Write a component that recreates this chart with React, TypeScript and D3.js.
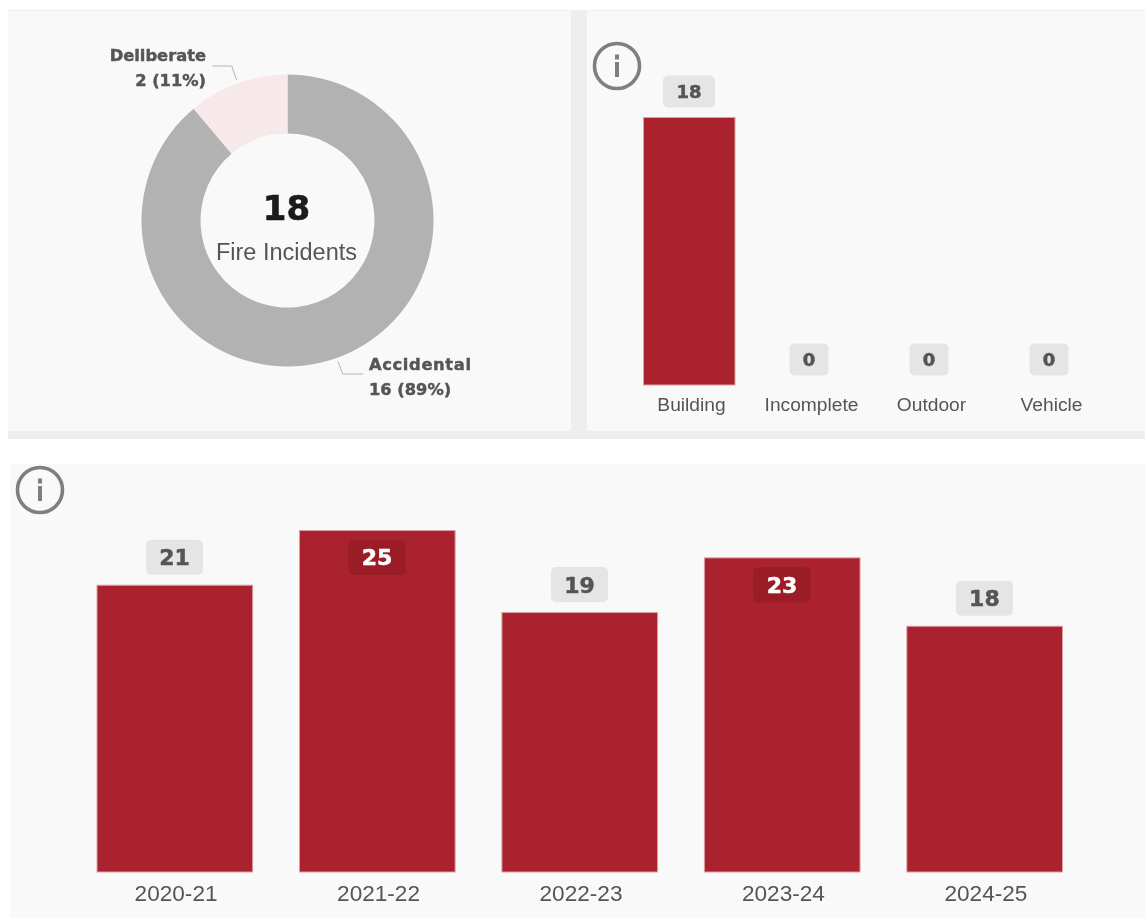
import React from "react";
import * as d3 from "d3";

const causeLabels = ["Accidental", "Deliberate"];
const causeValues = [16, 2];
const causeShares = ["16 (89%)", "2 (11%)"];
const causeTotal = 18;
const causeTitle = "Fire Incidents";

const typeLabels = ["Building", "Incomplete", "Outdoor", "Vehicle"];
const typeValues = [18, 0, 0, 0];

const yearLabels = ["2020-21", "2021-22", "2022-23", "2023-24", "2024-25"];
const yearValues = [21, 25, 19, 23, 18];

const RED = "#aa202d";
const EDGE = "#d9a0a5";
const PANEL = "#f9f9f9";
const GUTTER = "#eeeeee";
const BADGE = "#e5e5e5";
const BADGE_IN = "#9a1c28";
const TEXT = "#555555";
const BOLD = "'DejaVu Sans', Verdana, sans-serif";
const SANS = "'Liberation Sans', Arial, sans-serif";

function Info({ cx, cy }: { cx: number; cy: number }) {
  return (
    <g fill="#7f7f7f">
      <circle cx={cx} cy={cy} r={22.5} fill="none" stroke="#7f7f7f" strokeWidth={3.6} />
      <rect x={cx - 2} y={cy - 11.5} width={4} height={5} />
      <rect x={cx - 2} y={cy - 4} width={4} height={15} />
    </g>
  );
}

function Badge({ cx, y, w, h, fill, color, size, text }: any) {
  return (
    <g>
      <rect x={cx - w / 2} y={y} width={w} height={h} rx={5} fill={fill} />
      <text x={cx} y={y + h / 2} dy="0.36em" textAnchor="middle" fontFamily={BOLD} fontWeight={700} fontSize={size} fill={color} stroke={color} strokeWidth={0.5}>
        {text}
      </text>
    </g>
  );
}

function Donut() {
  const cx = 287.5;
  const cy = 220.5;
  const pie = d3.pie<number>().sort(null)(causeValues);
  const arc = d3.arc<d3.PieArcDatum<number>>().innerRadius(87).outerRadius(146);
  const colors = d3.scaleOrdinal<string, string>().domain(causeLabels).range(["#b2b2b2", "#f7e9ea"]);
  const line = d3.line();
  return (
    <g>
      <g transform={`translate(${cx},${cy})`}>
        {pie.map((d, i) => (
          <path key={causeLabels[i]} d={arc(d) as string} fill={colors(causeLabels[i])} />
        ))}
      </g>
      <path d={line([[236.6, 80], [231.7, 66], [212.5, 66]]) as string} fill="none" stroke="#b5b5b5" strokeWidth={1} />
      <path d={line([[338, 361.5], [342.7, 374], [363, 374]]) as string} fill="none" stroke="#b5b5b5" strokeWidth={1} />
      <g fontFamily={BOLD} fontWeight={700} fontSize={16.3} fill={TEXT} stroke={TEXT} strokeWidth={0.45}>
        <text x={206} y={61} textAnchor="end">{causeLabels[1]}</text>
        <text x={206} y={86} textAnchor="end">{causeShares[1]}</text>
        <text x={369} y={370} textLength={102} lengthAdjust="spacing">{causeLabels[0]}</text>
        <text x={369} y={395}>{causeShares[0]}</text>
      </g>
      <text x={286.5} y={220} textAnchor="middle" fontFamily={BOLD} fontWeight={700} fontSize={34} fill="#1a1a1a" stroke="#1a1a1a" strokeWidth={0.6}>{causeTotal}</text>
      <text x={286.5} y={260} textAnchor="middle" fontFamily={SANS} fontSize={23.5} fill={TEXT}>{causeTitle}</text>
    </g>
  );
}

function TypeBars() {
  const x = d3.scaleBand<string>().domain(typeLabels).range([643, 1095]).paddingInner(0.2333).paddingOuter(0);
  const y = d3.scaleLinear().domain([0, 18]).range([385, 117]);
  return (
    <g>
      {typeLabels.map((l, i) => {
        const v = typeValues[i];
        const bx = x(l) as number;
        const c = bx + x.bandwidth() / 2;
        return (
          <g key={l}>
            {v > 0 && <rect x={bx + 0.5} y={y(v) + 0.5} width={x.bandwidth() - 0.5} height={y(0) - y(v) - 0.5} fill={RED} stroke={EDGE} strokeWidth={1} />}
            <Badge cx={c} y={y(v) - 41.5} w={v > 9 ? 52 : 39} h={32} fill={BADGE} color={TEXT} size={18} text={v} />
            <text x={c + 2.5} y={411} textAnchor="middle" fontFamily={SANS} fontSize={19.2} fill={TEXT}>{l}</text>
          </g>
        );
      })}
    </g>
  );
}

function YearBars() {
  const x = d3.scaleBand<string>().domain(yearLabels).range([96.5, 1062.5]).paddingInner(0.2287).paddingOuter(0);
  const y = d3.scaleLinear().domain([0, 25]).range([872, 530]);
  return (
    <g>
      {yearLabels.map((l, i) => {
        const v = yearValues[i];
        const bx = x(l) as number;
        const c = bx + x.bandwidth() / 2;
        const inside = y(v) - 45 < 525;
        return (
          <g key={l}>
            <rect x={bx + 0.5} y={y(v) + 0.5} width={x.bandwidth() - 0.5} height={y(0) - y(v) - 0.5} fill={RED} stroke={EDGE} strokeWidth={1} />
            <Badge cx={c} y={inside ? y(v) + 10 : y(v) - 45} w={57} h={35} fill={inside ? BADGE_IN : BADGE} color={inside ? "#ffffff" : TEXT} size={22} text={v} />
            <text x={c + 1.5} y={901} textAnchor="middle" fontFamily={SANS} fontSize={22.6} fill={TEXT}>{l}</text>
          </g>
        );
      })}
    </g>
  );
}

export default function App() {
  return (
    <svg width={1145} height={918} viewBox="0 0 1145 918" style={{ position: "absolute", left: 0, top: 0, display: "block" }}>
      <defs>
        <filter id="soft" x="0" y="0" width="100%" height="100%" filterUnits="objectBoundingBox">
          <feGaussianBlur stdDeviation="0.45" />
        </filter>
      </defs>
      <rect x={0} y={0} width={1145} height={918} fill="#ffffff" />
      <g filter="url(#soft)">
        <rect x={0} y={0} width={1145} height={918} fill="#ffffff" />
        <rect x={8} y={10} width={1137} height={429} fill={GUTTER} />
        <rect x={8} y={11} width={563} height={420} fill={PANEL} />
        <rect x={587} y={11} width={558} height={420} fill={PANEL} />
        <rect x={10} y={464} width={1135} height={454} fill={PANEL} />
        <Donut />
        <Info cx={617} cy={66} />
        <TypeBars />
        <Info cx={40} cy={490} />
        <YearBars />
      </g>
    </svg>
  );
}
